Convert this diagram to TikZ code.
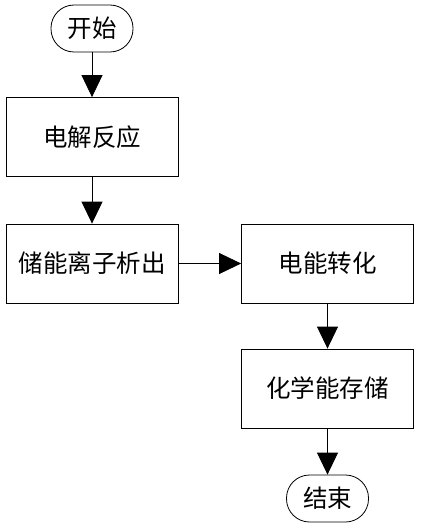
\documentclass[tikz,border=0pt]{standalone}
\usepackage{fontspec}
\setmainfont{Noto Sans CJK SC}
\usetikzlibrary{arrows.meta, positioning}

\tikzset{
    procbox/.style={draw=black, line width=0.8pt, minimum width=172pt, minimum height=79pt, inner sep=0pt},
    termbox/.style={draw=black, line width=0.8pt, rounded corners=23pt, minimum width=82pt, minimum height=47pt, inner sep=0pt},
    flow/.style={draw=black, line width=0.8pt, -{Triangle[length=22pt, width=21pt]}}
}

\begin{document}
\begin{tikzpicture}[x=1pt, y=-1pt, font=\fontsize{24.5}{28}\selectfont]
    \useasboundingbox (0, 0) rectangle (423, 532);
    % 左列
    \node[termbox] (start) at (92, 28.5) {开始};
    \node[procbox] (react) at (92, 137) {电解反应};
    \node[procbox] (ions) at (92, 263.5) {储能离子析出};
    % 右列
    \node[procbox] (conv) at (327.5, 263.5) {电能转化};
    \node[procbox] (store) at (327.5, 388.5) {化学能存储};
    \node[termbox] (stop) at (327.5, 498.5) {结束};

    \draw[flow] (start) -- (react);
    \draw[flow] (react) -- (ions);
    \draw[flow] (ions) -- (conv);
    \draw[flow] (conv) -- (store);
    \draw[flow] (store) -- (stop);
\end{tikzpicture}
\end{document}
